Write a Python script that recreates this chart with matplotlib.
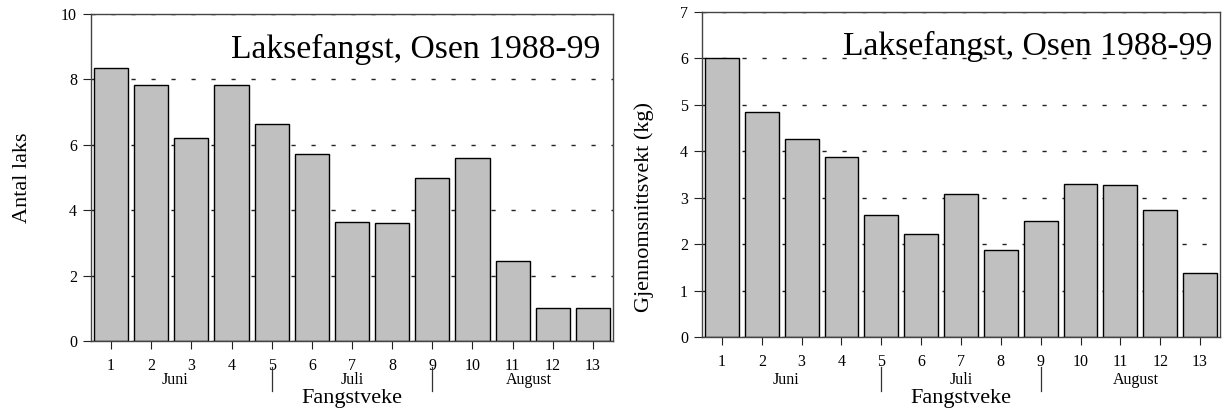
import numpy as np
import matplotlib
matplotlib.use('Agg')
import matplotlib.pyplot as plt
from matplotlib.lines import Line2D

plt.rcParams['font.family'] = ['Liberation Serif', 'DejaVu Serif']

weeks = np.arange(1, 14)
antal_laks = [8.34, 7.84, 6.2, 7.84, 6.63, 5.71, 3.65, 3.6, 5.0, 5.59, 2.44, 1.0, 1.0]
snittvekt = [6.0, 4.84, 4.26, 3.88, 2.62, 2.22, 3.08, 1.88, 2.5, 3.29, 3.27, 2.73, 1.38]
months = ['Juni', 'Juli', 'August']
month_pos = [2.6, 7.0, 11.4]
month_breaks = [5, 9]
title = 'Laksefangst, Osen 1988-99'

fig = plt.figure(figsize=(12.22, 4.12), dpi=100)
W, H = 1222, 412

def make_panel(rect, values, ymax, ystep, ylabel, ylab_xy, title_xy):
    l, t, r, b = rect
    ax = fig.add_axes([l / W, (H - b) / H, (r - l) / W, (b - t) / H])
    ax.bar(weeks, values, width=0.85, color='#c0c0c0', edgecolor='black', linewidth=1.0, zorder=2)
    ax.set_xlim(0.5, 13.5)
    ax.set_ylim(0, ymax)
    ax.set_yticks(np.arange(0, ymax + 0.1, ystep))
    ax.set_xticks(weeks)
    ax.yaxis.grid(True, linestyle=(0, (3.0, 11.4)), color='#222222', linewidth=1.0)
    ax.set_axisbelow(True)
    ax.tick_params(direction='out', length=6, width=0.8, labelsize=11.5, pad=4, color='#222222')
    ax.tick_params(axis='x', labelsize=11.5, pad=6)
    for s in ax.spines.values():
        s.set_linewidth(1.0)
        s.set_color('#444444')
    ax.set_ylabel(ylabel, fontsize=16)
    ax.yaxis.set_label_coords(ylab_xy[0], ylab_xy[1])
    h = b - t
    for m, p in zip(months, month_pos):
        ax.text(p, (b - 380) / h, m, fontsize=11.5, ha='center', va='center',
                transform=ax.get_xaxis_transform())
    for xb in month_breaks:
        ax.add_line(Line2D([xb, xb], [(b - 367) / h, (b - 391) / h], color='#333333',
                           linewidth=0.9, transform=ax.get_xaxis_transform(), clip_on=False))
    ax.text(0.5, (b - 398) / h, 'Fangstveke', fontsize=16, ha='center', va='center',
            transform=ax.transAxes)
    ax.text(title_xy[0], title_xy[1], title, fontsize=24.2, ha='right', va='baseline',
            transform=ax.transAxes, zorder=3)
    return ax

make_panel((91, 14, 613, 341), antal_laks, 10, 2, 'Antal laks', (-0.113, 0.5), (0.975, 0.865))
make_panel((702, 12, 1220, 337), snittvekt, 7, 1, 'Gjennomsnittsvekt (kg)', (-0.092, 0.40), (0.986, 0.869))

fig.savefig('out.png', dpi=100)
